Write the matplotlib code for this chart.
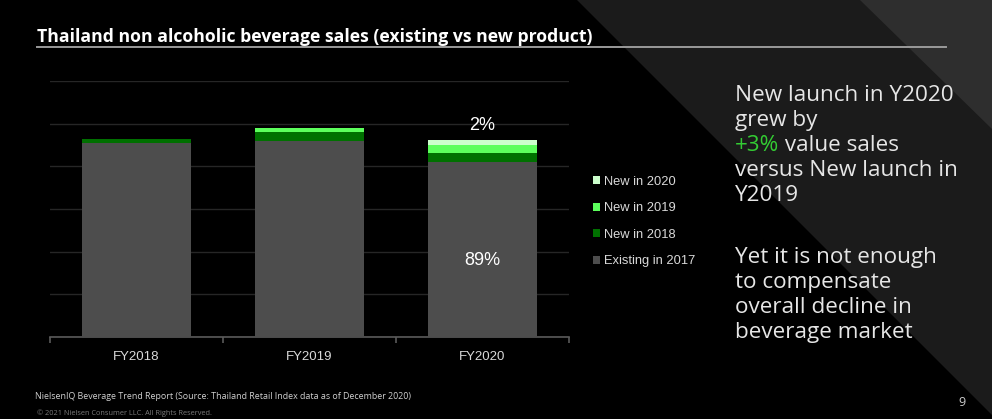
import matplotlib.pyplot as plt
from matplotlib.patches import Polygon

years = ["FY2018", "FY2019", "FY2020"]
existing_2017 = [4.55, 4.60, 4.09]
new_2018 = [0.09, 0.21, 0.23]
new_2019 = [0.0, 0.10, 0.17]
new_2020 = [0.0, 0.0, 0.13]

series_names = ["Existing in 2017", "New in 2018", "New in 2019", "New in 2020"]
series_colors = ["#4d4d4d", "#007000", "#5cff5c", "#ccffcc"]

W, H = 992, 419


def fx(x):
    return x / W


def fy(y):
    return 1 - y / H


fig = plt.figure(figsize=(W / 100, H / 100), dpi=100)
fig.patch.set_facecolor("black")

# diagonal background bands
band = Polygon([(fx(577), fy(0)), (fx(992), fy(0)), (fx(992), fy(415))],
               closed=True, transform=fig.transFigure, facecolor="#1b1b1b",
               edgecolor="none", zorder=0)
light = Polygon([(fx(860), fy(0)), (fx(992), fy(0)), (fx(992), fy(129))],
                closed=True, transform=fig.transFigure, facecolor="#2e2e2e",
                edgecolor="none", zorder=0)
fig.patches.extend([band, light])

# title + rule
fig.text(fx(37), fy(42), "Thailand non alcoholic beverage sales (existing vs new product)",
         color="white", fontsize=12.7, fontweight="bold", family="Open Sans",
         va="baseline", ha="left")
fig.add_artist(plt.Line2D([fx(37), fx(946)], [fy(47), fy(47)], color="#9a9a9a",
                          lw=1.4, transform=fig.transFigure))

ax = fig.add_axes([fx(50), fy(337), fx(569) - fx(50), fy(81) - fy(337)])
ax.set_zorder(2)
ax.set_facecolor("none")

x = list(range(len(years)))
bottom = [0.0] * len(years)
handles = []
for name, vals, col in zip(series_names, [existing_2017, new_2018, new_2019, new_2020], series_colors):
    b = ax.bar(x, vals, 0.625, bottom=bottom, color=col, label=name, zorder=3)
    handles.append(b)
    bottom = [bt + v for bt, v in zip(bottom, vals)]

ax.set_xlim(-0.5, 2.5)
ax.set_ylim(0, 6)
ax.set_yticks(range(0, 7))
ax.yaxis.grid(True, color="#262626", lw=1)
ax.set_axisbelow(True)
ax.tick_params(axis="y", length=0, labelleft=False)
for s in ["top", "left", "right"]:
    ax.spines[s].set_visible(False)
ax.spines["bottom"].set_color("#5a5a5a")
ax.spines["bottom"].set_linewidth(1.2)
ax.set_xticks(x)
ax.set_xticklabels(years, color="#d9d9d9", fontsize=9.5, family="Liberation Sans")
ax.tick_params(axis="x", which="major", length=0, pad=10)
ax.set_xticks([-0.5, 0.5, 1.5, 2.5], minor=True)
ax.tick_params(axis="x", which="minor", length=4, color="#5a5a5a", width=1.2)

# data labels on FY2020
ax.text(2, bottom[2] + 0.33, "2%", ha="center", va="center", color="white",
        fontsize=13, family="Liberation Sans")
ax.text(2, 1.8, "89%", ha="center", va="center", color="white",
        fontsize=13, family="Liberation Sans")

leg = ax.legend(handles[::-1], series_names[::-1], loc="upper left",
                bbox_to_anchor=(fx(581), fy(164)), bbox_transform=fig.transFigure,
                frameon=False, handlelength=0.6, handleheight=0.6, handletextpad=0.3,
                labelspacing=1.13, prop={"family": "Liberation Sans", "size": 9.3})
for t in leg.get_texts():
    t.set_color("#d9d9d9")

# right side commentary
txt = dict(color="#e6e6e6", fontsize=16.2, family="Open Sans", va="baseline", ha="left")
fig.text(fx(735), fy(101), "New launch in Y2020", **txt)
fig.text(fx(735), fy(126), "grew by", **txt)
p = fig.text(fx(735), fy(151), "+3%", **{**txt, "color": "#33cc33"})
ax.annotate(" value sales", xy=(1, 0), xycoords=p, va="bottom", ha="left",
            color="#e6e6e6", fontsize=16.2, family="Open Sans", annotation_clip=False)
fig.text(fx(735), fy(176), "versus New launch in", **txt)
fig.text(fx(735), fy(201), "Y2019", **txt)
fig.text(fx(735), fy(263), "Yet it is not enough", **txt)
fig.text(fx(735), fy(288), "to compensate", **txt)
fig.text(fx(735), fy(313), "overall decline in", **txt)
fig.text(fx(735), fy(338), "beverage market", **txt)

# footer
fig.text(fx(35), fy(399), "NielsenIQ Beverage Trend Report (Source: Thailand Retail Index data as of December 2020)",
         color="#d0d0d0", fontsize=6.4, family="Open Sans", va="baseline")
fig.text(fx(37), fy(415), "\u00a9 2021 Nielsen Consumer LLC. All Rights Reserved.",
         color="#7a7a7a", fontsize=5.3, family="Open Sans", va="baseline")
fig.text(fx(958), fy(406), "9", color="#cccccc", fontsize=9, family="Open Sans", va="baseline")

fig.savefig("out.png", dpi=100, facecolor=fig.get_facecolor())
